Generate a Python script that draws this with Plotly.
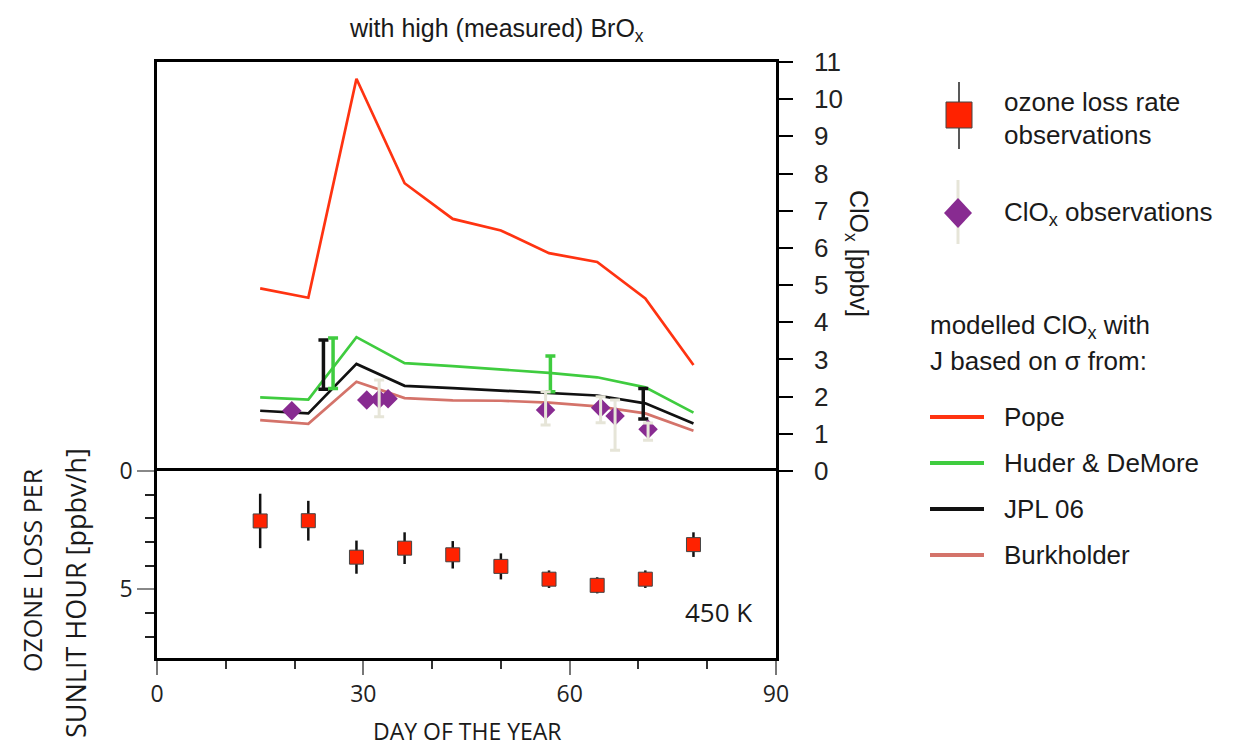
import plotly.graph_objects as go

# model days (weekly)
dias = [15, 22, 29, 36, 43, 50, 57, 64, 71, 78]

# modelled ClOx [ppbv], J from different cross sections
pope = [4.91, 4.66, 10.55, 7.74, 6.78, 6.47, 5.86, 5.62, 4.64, 2.85]
huder = [1.98, 1.92, 3.60, 2.90, 2.82, 2.74, 2.64, 2.52, 2.25, 1.57]
jpl06 = [1.62, 1.55, 2.88, 2.29, 2.23, 2.17, 2.11, 2.03, 1.82, 1.28]
burkholder = [1.37, 1.27, 2.40, 1.96, 1.90, 1.89, 1.84, 1.74, 1.55, 1.08]

# uncertainty bars on the model curves
jpl_bar_dias = [24.2, 70.7]
jpl_bar_val = [2.86, 1.81]
jpl_bar_err = [0.66, 0.41]
huder_bar_dias = [25.6, 57.2]
huder_bar_val = [2.90, 2.61]
huder_bar_err = [0.68, 0.48]

# ClOx observations
clox_dias = [19.6, 30.5, 32.3, 33.6, 56.5, 64.5, 66.6, 71.4]
clox_val = [1.62, 1.91, 1.93, 1.94, 1.64, 1.70, 1.48, 1.12]
clox_err_up = [0, 0, 0.52, 0, 0.49, 0.30, 0.43, 0.17]
clox_err_dn = [0, 0, 0.47, 0, 0.40, 0.40, 0.92, 0.29]

# ozone loss rate observations [ppbv/h]
loss = [2.11, 2.10, 3.64, 3.26, 3.54, 4.03, 4.57, 4.83, 4.57, 3.11]
loss_err = [1.15, 0.84, 0.70, 0.67, 0.58, 0.55, 0.37, 0.34, 0.37, 0.52]

# the page puts the figure 8 px in from the corner
OFF = 8
W, H = 1248 - OFF, 746 - OFF
L, R, T, B = 157, 776, 62, 658


def px(x):
    return (x - L) / (R - L)


def py(y):
    return (B - y) / (B - T)


split = py(471)

fuente = "Liberation Sans, Arial, sans-serif"
fuente_n = "Liberation Sans Narrow, Open Sans, sans-serif"

c_pope = "#ff3311"
c_huder = "#3fcc3f"
c_jpl = "#111111"
c_burk = "#d4736a"
c_clox = "#882b91"
c_claro = "#e6e5d8"

fig = go.Figure()

# --- panel superior: ClOx
for serie, color in [(pope, c_pope), (huder, c_huder), (jpl06, c_jpl), (burkholder, c_burk)]:
    fig.add_trace(go.Scatter(x=dias, y=serie, mode="lines", line=dict(color=color, width=2.7),
                             xaxis="x2", yaxis="y2", showlegend=False))

fig.add_trace(go.Scatter(x=jpl_bar_dias, y=jpl_bar_val, mode="markers", marker=dict(opacity=0),
                         error_y=dict(type="data", array=jpl_bar_err, color=c_jpl, thickness=3.5, width=5),
                         xaxis="x2", yaxis="y2", showlegend=False))
fig.add_trace(go.Scatter(x=huder_bar_dias, y=huder_bar_val, mode="markers", marker=dict(opacity=0),
                         error_y=dict(type="data", array=huder_bar_err, color=c_huder, thickness=3.5, width=5),
                         xaxis="x2", yaxis="y2", showlegend=False))

fig.add_trace(go.Scatter(x=clox_dias, y=clox_val, mode="markers",
                         marker=dict(symbol="diamond", size=15, color=c_clox, line=dict(width=0)),
                         xaxis="x2", yaxis="y2", showlegend=False))
# barras claras por encima de los rombos (solo donde hay barra)
con_barra = [i for i in range(len(clox_dias)) if clox_err_up[i] > 0 or clox_err_dn[i] > 0]
fig.add_trace(go.Scatter(x=[clox_dias[i] for i in con_barra], y=[clox_val[i] for i in con_barra],
                         mode="markers", marker=dict(opacity=0),
                         error_y=dict(type="data", symmetric=False,
                                      array=[clox_err_up[i] for i in con_barra],
                                      arrayminus=[clox_err_dn[i] for i in con_barra],
                                      color=c_claro, thickness=3, width=5),
                         xaxis="x2", yaxis="y2", showlegend=False))

# --- panel inferior: perdida de ozono
fig.add_trace(go.Scatter(x=dias, y=loss, mode="markers",
                         marker=dict(symbol="square", size=14, color="#ff2200", line=dict(color="#444", width=1)),
                         error_y=dict(type="data", array=loss_err, color="#111", thickness=2.5, width=0),
                         xaxis="x", yaxis="y", showlegend=False))

fig.update_layout(
    width=W, height=H,
    margin=dict(l=L - OFF, r=W - (R - OFF), t=T - OFF, b=H - (B - OFF)),
    paper_bgcolor="white", plot_bgcolor="white",
    xaxis=dict(domain=[0, 1], anchor="y", range=[0, 90], tickvals=[0, 30, 60, 90],
               ticks="outside", ticklen=14, tickcolor="#777", tickwidth=1.5,
               minor=dict(dtick=10, ticks="outside", ticklen=8, tickcolor="#333", tickwidth=1.5),
               showline=True, mirror=True, linecolor="black", linewidth=2.5,
               showgrid=False, zeroline=False,
               tickfont=dict(family=fuente_n, size=23, color="#222")),
    yaxis=dict(domain=[0, split], anchor="x", range=[7.9, 0], tickvals=[0, 5],
               ticks="outside", ticklen=17, tickcolor="#888", tickwidth=1.5,
               minor=dict(dtick=1, ticks="outside", ticklen=9, tickcolor="#222", tickwidth=1.5),
               showline=True, mirror=True, linecolor="black", linewidth=2.5,
               showgrid=False, zeroline=False,
               tickfont=dict(family=fuente_n, size=23, color="#222")),
    xaxis2=dict(domain=[0, 1], anchor="y2", side="top", range=[0, 90], showticklabels=False, ticks="",
                showline=True, linecolor="black", linewidth=2.5,
                showgrid=False, zeroline=False),
    yaxis2=dict(domain=[split, 1], anchor="x2", side="right", range=[0, 11], dtick=1,
                ticks="outside", ticklen=14, tickcolor="black", tickwidth=1.5,
                ticklabelstandoff=16,
                showline=True, mirror=True, linecolor="black", linewidth=2.5,
                showgrid=False, zeroline=False,
                tickfont=dict(family=fuente, size=26, color="#222")),
)

anot = [
    dict(x=px(497), y=py(30), text="with high (measured) BrO<sub>x</sub>", font=dict(family=fuente, size=25)),
    dict(x=px(857), y=py(253), text="ClO<sub>x</sub> [ppbv]", textangle=90, font=dict(family=fuente, size=25)),
    dict(x=px(32), y=py(570), text="OZONE LOSS PER", textangle=-90, font=dict(family=fuente_n, size=25)),
    dict(x=px(75), y=py(593), text="SUNLIT HOUR [ppbv/h]", textangle=-90, font=dict(family=fuente_n, size=27)),
    dict(x=px(467), y=py(731), text="DAY OF THE YEAR", font=dict(family=fuente_n, size=23)),
    dict(x=px(718), y=py(612), text="450 K", font=dict(family=fuente_n, size=26)),
    # leyenda
    dict(x=px(1002), y=py(102), text="ozone loss rate", xanchor="left", font=dict(family=fuente, size=26)),
    dict(x=px(1002), y=py(135), text="observations", xanchor="left", font=dict(family=fuente, size=26)),
    dict(x=px(1002), y=py(214), text="ClO<sub>x</sub> observations", xanchor="left", font=dict(family=fuente, size=26)),
    dict(x=px(928), y=py(326), text="modelled ClO<sub>x</sub> with", xanchor="left", font=dict(family=fuente, size=26)),
    dict(x=px(928), y=py(361), text="J based on σ from:", xanchor="left", font=dict(family=fuente, size=26)),
    dict(x=px(1002), y=py(417), text="Pope", xanchor="left", font=dict(family=fuente, size=26)),
    dict(x=px(1002), y=py(463), text="Huder &amp; DeMore", xanchor="left", font=dict(family=fuente, size=26)),
    dict(x=px(1002), y=py(509), text="JPL 06", xanchor="left", font=dict(family=fuente, size=26)),
    dict(x=px(1002), y=py(555), text="Burkholder", xanchor="left", font=dict(family=fuente, size=26)),
]
for a in anot:
    a.setdefault("xanchor", "center")
    a["font"]["color"] = "#1a1a1a"
    fig.add_annotation(xref="paper", yref="paper", showarrow=False, yanchor="middle", **a)

# simbolos de la leyenda
fig.add_shape(type="line", xref="paper", yref="paper", x0=px(959), x1=px(959), y0=py(82), y1=py(149),
              line=dict(color="#222", width=1.5))
fig.add_shape(type="rect", xref="paper", yref="paper", x0=px(946), x1=px(972), y0=py(102), y1=py(128),
              fillcolor="#ff2200", line=dict(color="#444", width=1))
fig.add_shape(type="line", xref="paper", yref="paper", x0=px(958), x1=px(958), y0=py(180), y1=py(244),
              line=dict(color=c_claro, width=3))
fig.add_shape(type="path", xref="paper", yref="paper",
              path="M {} {} L {} {} L {} {} L {} {} Z".format(px(944), py(213), px(958), py(198),
                                                              px(972), py(213), px(958), py(228)),
              fillcolor=c_clox, line=dict(width=0))
for yy, color in [(417, c_pope), (463, c_huder), (509, c_jpl), (555, c_burk)]:
    fig.add_shape(type="line", xref="paper", yref="paper", x0=px(930), x1=px(984), y0=py(yy), y1=py(yy),
                  line=dict(color=color, width=4))

fig.write_html("out.html")
